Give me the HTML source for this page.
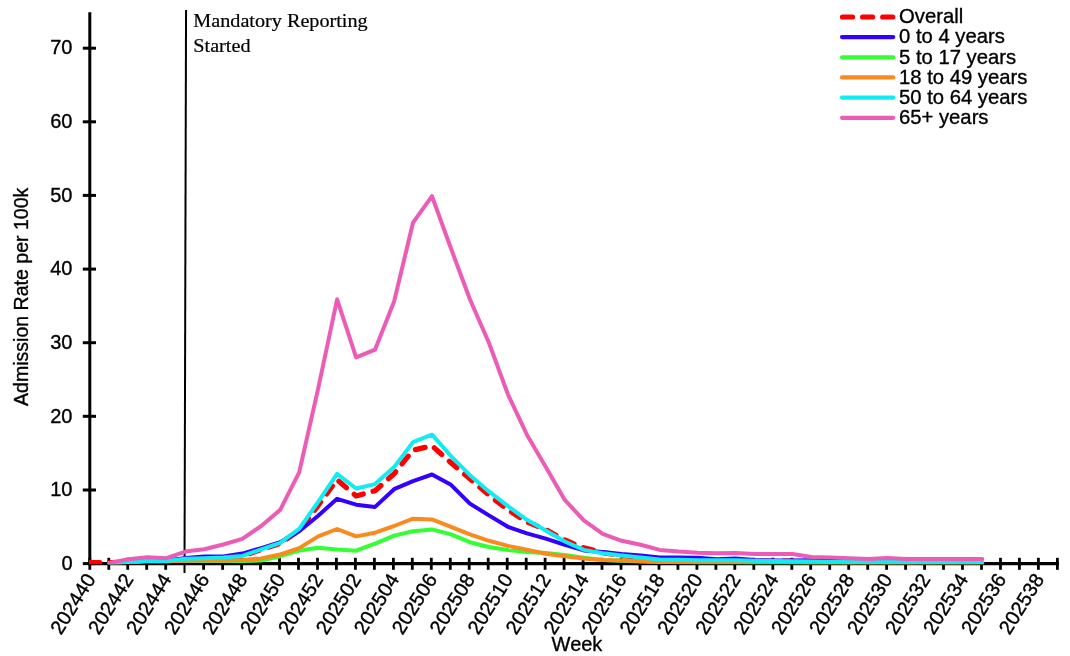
<!DOCTYPE html><html><head><meta charset="utf-8"><title>Admission Rate per 100k by Week</title>
<style>html,body{margin:0;padding:0;background:#fff}svg{display:block}text{font-family:"Liberation Sans",Arial,sans-serif;fill:#000;stroke:#000;stroke-width:.35px;stroke-linejoin:round}.serif{font-family:"Liberation Serif","Times New Roman",serif;stroke-width:.2px}</style></head><body>
<svg width="1070" height="656" viewBox="0 0 1070 656">
<rect width="1070" height="656" fill="#fff"/>
<line x1="186.05" y1="10" x2="184.5" y2="573" stroke="#000" stroke-width="2"/>
<text class="serif" transform="translate(193.3 27.4) scale(1.08 1)" font-size="18.7">Mandatory Reporting</text>
<text class="serif" transform="translate(193.3 51.6) scale(1.08 1)" font-size="18.7">Started</text>
<line x1="89.80" y1="12.2" x2="89.80" y2="565.2" stroke="#000" stroke-width="3"/>
<line x1="88.30" y1="563.6" x2="1058.9" y2="563.6" stroke="#000" stroke-width="3.2"/>
<line x1="82.8" y1="563.6" x2="96.0" y2="563.6" stroke="#000" stroke-width="3"/>
<text x="72.5" y="569.8" font-size="20" text-anchor="end">0</text>
<line x1="82.8" y1="490.0" x2="96.0" y2="490.0" stroke="#000" stroke-width="3"/>
<text x="72.5" y="496.2" font-size="20" text-anchor="end">10</text>
<line x1="82.8" y1="416.3" x2="96.0" y2="416.3" stroke="#000" stroke-width="3"/>
<text x="72.5" y="422.5" font-size="20" text-anchor="end">20</text>
<line x1="82.8" y1="342.7" x2="96.0" y2="342.7" stroke="#000" stroke-width="3"/>
<text x="72.5" y="348.9" font-size="20" text-anchor="end">30</text>
<line x1="82.8" y1="269.1" x2="96.0" y2="269.1" stroke="#000" stroke-width="3"/>
<text x="72.5" y="275.3" font-size="20" text-anchor="end">40</text>
<line x1="82.8" y1="195.4" x2="96.0" y2="195.4" stroke="#000" stroke-width="3"/>
<text x="72.5" y="201.6" font-size="20" text-anchor="end">50</text>
<line x1="82.8" y1="121.8" x2="96.0" y2="121.8" stroke="#000" stroke-width="3"/>
<text x="72.5" y="128.0" font-size="20" text-anchor="end">60</text>
<line x1="82.8" y1="48.2" x2="96.0" y2="48.2" stroke="#000" stroke-width="3"/>
<text x="72.5" y="54.4" font-size="20" text-anchor="end">70</text>
<line x1="89.8" y1="557.8" x2="89.8" y2="569.8" stroke="#000" stroke-width="2.8"/>
<text transform="translate(96.3 579.1) rotate(-58)" font-size="20" text-anchor="end">202440</text>
<line x1="108.8" y1="557.8" x2="108.8" y2="569.8" stroke="#000" stroke-width="2.8"/>
<line x1="127.7" y1="557.8" x2="127.7" y2="569.8" stroke="#000" stroke-width="2.8"/>
<text transform="translate(134.2 579.1) rotate(-58)" font-size="20" text-anchor="end">202442</text>
<line x1="146.7" y1="557.8" x2="146.7" y2="569.8" stroke="#000" stroke-width="2.8"/>
<line x1="165.7" y1="557.8" x2="165.7" y2="569.8" stroke="#000" stroke-width="2.8"/>
<text transform="translate(172.2 579.1) rotate(-58)" font-size="20" text-anchor="end">202444</text>
<line x1="203.6" y1="557.8" x2="203.6" y2="569.8" stroke="#000" stroke-width="2.8"/>
<text transform="translate(210.1 579.1) rotate(-58)" font-size="20" text-anchor="end">202446</text>
<line x1="222.6" y1="557.8" x2="222.6" y2="569.8" stroke="#000" stroke-width="2.8"/>
<line x1="241.6" y1="557.8" x2="241.6" y2="569.8" stroke="#000" stroke-width="2.8"/>
<text transform="translate(248.1 579.1) rotate(-58)" font-size="20" text-anchor="end">202448</text>
<line x1="260.5" y1="557.8" x2="260.5" y2="569.8" stroke="#000" stroke-width="2.8"/>
<line x1="279.5" y1="557.8" x2="279.5" y2="569.8" stroke="#000" stroke-width="2.8"/>
<text transform="translate(286.0 579.1) rotate(-58)" font-size="20" text-anchor="end">202450</text>
<line x1="298.5" y1="557.8" x2="298.5" y2="569.8" stroke="#000" stroke-width="2.8"/>
<line x1="317.5" y1="557.8" x2="317.5" y2="569.8" stroke="#000" stroke-width="2.8"/>
<text transform="translate(324.0 579.1) rotate(-58)" font-size="20" text-anchor="end">202452</text>
<line x1="336.4" y1="557.8" x2="336.4" y2="569.8" stroke="#000" stroke-width="2.8"/>
<line x1="355.4" y1="557.8" x2="355.4" y2="569.8" stroke="#000" stroke-width="2.8"/>
<text transform="translate(361.9 579.1) rotate(-58)" font-size="20" text-anchor="end">202502</text>
<line x1="374.4" y1="557.8" x2="374.4" y2="569.8" stroke="#000" stroke-width="2.8"/>
<line x1="393.4" y1="557.8" x2="393.4" y2="569.8" stroke="#000" stroke-width="2.8"/>
<text transform="translate(399.9 579.1) rotate(-58)" font-size="20" text-anchor="end">202504</text>
<line x1="412.3" y1="557.8" x2="412.3" y2="569.8" stroke="#000" stroke-width="2.8"/>
<line x1="431.3" y1="557.8" x2="431.3" y2="569.8" stroke="#000" stroke-width="2.8"/>
<text transform="translate(437.8 579.1) rotate(-58)" font-size="20" text-anchor="end">202506</text>
<line x1="450.3" y1="557.8" x2="450.3" y2="569.8" stroke="#000" stroke-width="2.8"/>
<line x1="469.2" y1="557.8" x2="469.2" y2="569.8" stroke="#000" stroke-width="2.8"/>
<text transform="translate(475.7 579.1) rotate(-58)" font-size="20" text-anchor="end">202508</text>
<line x1="488.2" y1="557.8" x2="488.2" y2="569.8" stroke="#000" stroke-width="2.8"/>
<line x1="507.2" y1="557.8" x2="507.2" y2="569.8" stroke="#000" stroke-width="2.8"/>
<text transform="translate(513.7 579.1) rotate(-58)" font-size="20" text-anchor="end">202510</text>
<line x1="526.2" y1="557.8" x2="526.2" y2="569.8" stroke="#000" stroke-width="2.8"/>
<line x1="545.1" y1="557.8" x2="545.1" y2="569.8" stroke="#000" stroke-width="2.8"/>
<text transform="translate(551.6 579.1) rotate(-58)" font-size="20" text-anchor="end">202512</text>
<line x1="564.1" y1="557.8" x2="564.1" y2="569.8" stroke="#000" stroke-width="2.8"/>
<line x1="583.1" y1="557.8" x2="583.1" y2="569.8" stroke="#000" stroke-width="2.8"/>
<text transform="translate(589.6 579.1) rotate(-58)" font-size="20" text-anchor="end">202514</text>
<line x1="602.0" y1="557.8" x2="602.0" y2="569.8" stroke="#000" stroke-width="2.8"/>
<line x1="621.0" y1="557.8" x2="621.0" y2="569.8" stroke="#000" stroke-width="2.8"/>
<text transform="translate(627.5 579.1) rotate(-58)" font-size="20" text-anchor="end">202516</text>
<line x1="640.0" y1="557.8" x2="640.0" y2="569.8" stroke="#000" stroke-width="2.8"/>
<line x1="659.0" y1="557.8" x2="659.0" y2="569.8" stroke="#000" stroke-width="2.8"/>
<text transform="translate(665.5 579.1) rotate(-58)" font-size="20" text-anchor="end">202518</text>
<line x1="677.9" y1="557.8" x2="677.9" y2="569.8" stroke="#000" stroke-width="2.8"/>
<line x1="696.9" y1="557.8" x2="696.9" y2="569.8" stroke="#000" stroke-width="2.8"/>
<text transform="translate(703.4 579.1) rotate(-58)" font-size="20" text-anchor="end">202520</text>
<line x1="715.9" y1="557.8" x2="715.9" y2="569.8" stroke="#000" stroke-width="2.8"/>
<line x1="734.8" y1="557.8" x2="734.8" y2="569.8" stroke="#000" stroke-width="2.8"/>
<text transform="translate(741.3 579.1) rotate(-58)" font-size="20" text-anchor="end">202522</text>
<line x1="753.8" y1="557.8" x2="753.8" y2="569.8" stroke="#000" stroke-width="2.8"/>
<line x1="772.8" y1="557.8" x2="772.8" y2="569.8" stroke="#000" stroke-width="2.8"/>
<text transform="translate(779.3 579.1) rotate(-58)" font-size="20" text-anchor="end">202524</text>
<line x1="791.8" y1="557.8" x2="791.8" y2="569.8" stroke="#000" stroke-width="2.8"/>
<line x1="810.7" y1="557.8" x2="810.7" y2="569.8" stroke="#000" stroke-width="2.8"/>
<text transform="translate(817.2 579.1) rotate(-58)" font-size="20" text-anchor="end">202526</text>
<line x1="829.7" y1="557.8" x2="829.7" y2="569.8" stroke="#000" stroke-width="2.8"/>
<line x1="848.7" y1="557.8" x2="848.7" y2="569.8" stroke="#000" stroke-width="2.8"/>
<text transform="translate(855.2 579.1) rotate(-58)" font-size="20" text-anchor="end">202528</text>
<line x1="867.7" y1="557.8" x2="867.7" y2="569.8" stroke="#000" stroke-width="2.8"/>
<line x1="886.6" y1="557.8" x2="886.6" y2="569.8" stroke="#000" stroke-width="2.8"/>
<text transform="translate(893.1 579.1) rotate(-58)" font-size="20" text-anchor="end">202530</text>
<line x1="905.6" y1="557.8" x2="905.6" y2="569.8" stroke="#000" stroke-width="2.8"/>
<line x1="924.6" y1="557.8" x2="924.6" y2="569.8" stroke="#000" stroke-width="2.8"/>
<text transform="translate(931.1 579.1) rotate(-58)" font-size="20" text-anchor="end">202532</text>
<line x1="943.5" y1="557.8" x2="943.5" y2="569.8" stroke="#000" stroke-width="2.8"/>
<line x1="962.5" y1="557.8" x2="962.5" y2="569.8" stroke="#000" stroke-width="2.8"/>
<text transform="translate(969.0 579.1) rotate(-58)" font-size="20" text-anchor="end">202534</text>
<line x1="981.5" y1="557.8" x2="981.5" y2="569.8" stroke="#000" stroke-width="2.8"/>
<line x1="1000.5" y1="557.8" x2="1000.5" y2="569.8" stroke="#000" stroke-width="2.8"/>
<text transform="translate(1007.0 579.1) rotate(-58)" font-size="20" text-anchor="end">202536</text>
<line x1="1019.4" y1="557.8" x2="1019.4" y2="569.8" stroke="#000" stroke-width="2.8"/>
<line x1="1038.4" y1="557.8" x2="1038.4" y2="569.8" stroke="#000" stroke-width="2.8"/>
<text transform="translate(1044.9 579.1) rotate(-58)" font-size="20" text-anchor="end">202538</text>
<line x1="1057.4" y1="557.8" x2="1057.4" y2="569.8" stroke="#000" stroke-width="2.8"/>
<clipPath id="plot"><rect x="89" y="0" width="981" height="564.3"/></clipPath>
<g clip-path="url(#plot)">
<path d="M89.8 562.6 L109.5 562.6 L128.4 562.1 L147.4 560.7 L166.4 561.0 L185.4 559.2 L204.3 558.4 L223.3 557.7 L242.3 556.2 L261.2 549.6 L280.2 543.4 L299.2 530.5 L318.2 505.4 L337.1 479.7 L356.1 495.9 L375.1 490.7 L394.1 473.8 L413.0 450.2 L432.0 445.8 L451.0 462.7 L469.9 478.9 L488.9 495.1 L507.9 509.9 L526.9 522.0 L545.8 529.7 L564.8 540.0 L583.8 547.8 L602.7 552.6 L621.7 555.5 L640.7 557.7 L659.7 559.2 L678.6 559.9 L697.6 560.7 L716.6 560.7 L735.5 560.7 L754.5 561.0 L773.5 561.0 L792.5 561.0 L811.4 561.8 L830.4 562.1 L849.4 562.5 L868.4 562.5 L887.3 562.5 L906.3 562.5 L925.3 562.5 L944.2 562.5 L963.2 562.5 L982.2 562.5" fill="none" stroke="#ff0000" stroke-width="5.2" stroke-linejoin="round" stroke-linecap="round" stroke-dasharray="10 10.1"/>
<path d="M109.5 563.6 L128.4 562.1 L147.4 560.7 L166.4 561.0 L185.4 558.0 L204.3 556.5 L223.3 556.4 L242.3 553.6 L261.2 548.1 L280.2 542.2 L299.2 531.2 L318.2 515.7 L337.1 498.8 L356.1 504.7 L375.1 506.9 L394.1 489.2 L413.0 481.1 L432.0 474.5 L451.0 484.8 L469.9 503.6 L488.9 515.4 L507.9 526.8 L526.9 533.4 L545.8 538.6 L564.8 544.8 L583.8 550.4 L602.7 552.1 L621.7 554.1 L640.7 555.5 L659.7 557.5 L678.6 557.5 L697.6 557.7 L716.6 559.2 L735.5 558.4 L754.5 559.9 L773.5 560.5 L792.5 560.5 L811.4 560.3 L830.4 560.5 L849.4 561.4 L868.4 561.4 L887.3 561.4 L906.3 562.1 L925.3 562.5 L944.2 562.5 L963.2 562.5 L982.2 562.5" fill="none" stroke="#3300ff" stroke-width="4.0" stroke-linejoin="round" stroke-linecap="round"/>
<path d="M109.5 563.2 L128.4 562.1 L147.4 561.2 L166.4 561.2 L185.4 561.0 L204.3 561.0 L223.3 561.0 L242.3 561.0 L261.2 560.6 L280.2 556.2 L299.2 550.5 L318.2 547.7 L337.1 549.6 L356.1 550.7 L375.1 543.7 L394.1 535.6 L413.0 531.2 L432.0 529.4 L451.0 534.4 L469.9 542.2 L488.9 547.0 L507.9 549.9 L526.9 552.1 L545.8 552.9 L564.8 555.1 L583.8 557.7 L602.7 559.9 L621.7 560.7 L640.7 561.4 L659.7 562.0 L678.6 562.3 L697.6 562.5 L716.6 562.5 L735.5 562.5 L754.5 562.7 L773.5 562.7 L792.5 562.7 L811.4 563.2 L830.4 563.4 L849.4 563.6 L868.4 563.6 L887.3 563.6 L906.3 563.6 L925.3 563.6 L944.2 563.6 L963.2 563.6 L982.2 563.6" fill="none" stroke="#33ff33" stroke-width="4.0" stroke-linejoin="round" stroke-linecap="round"/>
<path d="M109.5 563.2 L128.4 562.1 L147.4 561.0 L166.4 561.0 L185.4 560.8 L204.3 560.6 L223.3 560.6 L242.3 560.1 L261.2 558.4 L280.2 554.5 L299.2 548.1 L318.2 536.4 L337.1 529.0 L356.1 536.4 L375.1 532.7 L394.1 526.0 L413.0 518.7 L432.0 519.4 L451.0 526.8 L469.9 534.4 L488.9 540.8 L507.9 545.9 L526.9 549.6 L545.8 553.7 L564.8 556.2 L583.8 558.4 L602.7 559.9 L621.7 560.5 L640.7 560.9 L659.7 561.5 L678.6 562.0 L697.6 562.3 L716.6 562.3 L735.5 562.3 L754.5 562.5 L773.5 562.5 L792.5 562.5 L811.4 562.9 L830.4 563.0 L849.4 563.4 L868.4 563.6 L887.3 563.6 L906.3 563.6 L925.3 563.6 L944.2 563.6 L963.2 563.6 L982.2 563.6" fill="none" stroke="#fa8a1e" stroke-width="4.0" stroke-linejoin="round" stroke-linecap="round"/>
<path d="M109.5 563.6 L128.4 562.1 L147.4 560.7 L166.4 561.0 L185.4 558.8 L204.3 558.2 L223.3 557.5 L242.3 555.9 L261.2 549.3 L280.2 542.8 L299.2 528.8 L318.2 501.8 L337.1 473.8 L356.1 488.5 L375.1 484.1 L394.1 467.1 L413.0 442.1 L432.0 434.7 L451.0 456.1 L469.9 475.2 L488.9 491.4 L507.9 506.2 L526.9 519.8 L545.8 530.5 L564.8 541.5 L583.8 549.9 L602.7 553.3 L621.7 555.5 L640.7 557.5 L659.7 559.5 L678.6 559.7 L697.6 560.3 L716.6 560.3 L735.5 560.3 L754.5 560.7 L773.5 561.1 L792.5 561.2 L811.4 561.5 L830.4 562.0 L849.4 562.1 L868.4 562.1 L887.3 562.1 L906.3 562.1 L925.3 562.1 L944.2 562.1 L963.2 562.1 L982.2 562.1" fill="none" stroke="#10ecf2" stroke-width="4.0" stroke-linejoin="round" stroke-linecap="round"/>
<path d="M109.5 562.9 L128.4 559.3 L147.4 557.3 L166.4 558.2 L185.4 551.6 L204.3 549.2 L223.3 544.5 L242.3 538.8 L261.2 526.0 L280.2 509.9 L299.2 472.3 L318.2 388.4 L337.1 299.3 L356.1 357.4 L375.1 349.6 L394.1 301.5 L413.0 222.7 L432.0 196.2 L451.0 248.5 L469.9 299.3 L488.9 342.7 L507.9 394.3 L526.9 434.7 L545.8 467.1 L564.8 499.9 L583.8 520.4 L602.7 533.9 L621.7 540.8 L640.7 544.8 L659.7 549.9 L678.6 551.6 L697.6 552.7 L716.6 553.3 L735.5 553.0 L754.5 554.1 L773.5 554.1 L792.5 554.1 L811.4 557.0 L830.4 557.6 L849.4 558.3 L868.4 559.0 L887.3 558.1 L906.3 559.0 L925.3 559.0 L944.2 559.0 L963.2 559.0 L982.2 559.0" fill="none" stroke="#ec5cb6" stroke-width="4.0" stroke-linejoin="round" stroke-linecap="round"/>
</g>
<text x="577" y="650.5" font-size="20" text-anchor="middle">Week</text>
<text transform="translate(27.6 296.8) rotate(-90)" font-size="19.55" text-anchor="middle">Admission Rate per 100k</text>
<line x1="842.5" y1="17.0" x2="893.2" y2="17.0" stroke="#ff0000" stroke-width="5.2" stroke-linecap="round" stroke-dasharray="10 10.1"/>
<text x="899" y="23.3" font-size="20.25">Overall</text>
<line x1="842" y1="37.1" x2="893.2" y2="37.1" stroke="#3300ff" stroke-width="4.2" stroke-linecap="round"/>
<text x="899" y="43.4" font-size="20.25">0 to 4 years</text>
<line x1="842" y1="57.3" x2="893.2" y2="57.3" stroke="#33ff33" stroke-width="4.2" stroke-linecap="round"/>
<text x="899" y="63.6" font-size="20.25">5 to 17 years</text>
<line x1="842" y1="77.4" x2="893.2" y2="77.4" stroke="#fa8a1e" stroke-width="4.2" stroke-linecap="round"/>
<text x="899" y="83.7" font-size="20.25">18 to 49 years</text>
<line x1="842" y1="97.6" x2="893.2" y2="97.6" stroke="#10ecf2" stroke-width="4.2" stroke-linecap="round"/>
<text x="899" y="103.9" font-size="20.25">50 to 64 years</text>
<line x1="842" y1="117.8" x2="893.2" y2="117.8" stroke="#ec5cb6" stroke-width="4.2" stroke-linecap="round"/>
<text x="899" y="124.0" font-size="20.25">65+ years</text>
</svg></body></html>
